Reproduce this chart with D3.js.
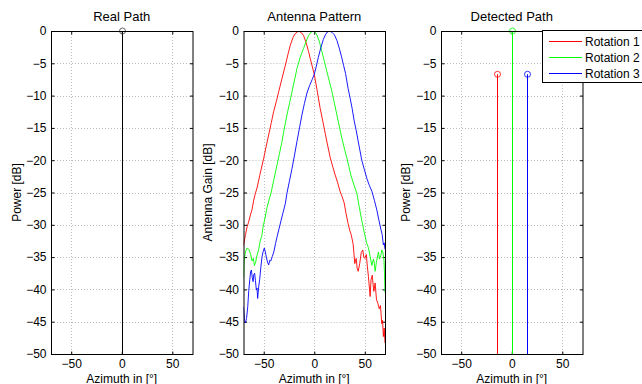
<!DOCTYPE html>
<html><head><meta charset="utf-8">
<script src="https://cdn.jsdelivr.net/npm/d3@7"></script>
<style>body{margin:0;background:#fff;overflow:hidden}svg{display:block}</style>
</head><body>
<svg id="c" width="642" height="384"></svg>
<script>
// ---------- data ----------
const titles = ["Real Path", "Antenna Pattern", "Detected Path"];
const yLabels = ["Power [dB]", "Antenna Gain [dB]", "Power [dB]"];
const xLabelText = "Azimuth in [°]";
const xTicks = [-50, 0, 50];
const yTicks = [0, -5, -10, -15, -20, -25, -30, -35, -40, -45, -50];
const seriesNames = ["Rotation 1", "Rotation 2", "Rotation 3"];
const seriesColors = ["#ff0000", "#00ff00", "#0000ff"];

const realAz = [0];
const realPower = [0];

const detAz = [-15, 0, 15];
const detPower = [-6.7, 0, -6.7];

const rot1Az = [-70,-68,-66.4,-65,-63.2,-61.5,-59.9,-58.2,-56.6,-54,-50,-47.5,-45.1,-42.5,-40.2,-37.5,-35.2,-32,-28.6,-26,-23.7,-21,-18.8,-15.5,-12.5,-10.6,-8,-5.6,-3.9,0,2.6,5.9,8.5,10.9,13.5,15.8,18.5,20.7,23,25.7,27.5,29.6,31.5,33.5,35,36.5,38.4,39.3,40.1,41.5,42.5,43.5,45,46.5,48,49,50,51.5,52.5,53.6,55.3,56.2,57.4,58.2,59,60.2,61.6,63,64.3,65.5,66.8,67.6,68.4,69.2,70];
const rot1Gain = [-33.2,-31.5,-30.3,-29.6,-28.5,-27.6,-26.2,-25.1,-24.3,-22.4,-19.7,-17.8,-16.1,-14.2,-12.5,-10.9,-9.4,-7.4,-5.3,-3.6,-2.2,-1.0,-0.4,0,-0.3,-0.7,-1.8,-3.2,-4.3,-6.7,-9.0,-12.0,-14.0,-15.9,-17.9,-19.6,-21.1,-22.3,-23.4,-24.9,-25.6,-26.6,-28.3,-29.8,-30.8,-31.5,-32.9,-34.5,-36,-35.2,-36.8,-37.2,-36,-34.3,-33.9,-35,-35.2,-34.6,-36.4,-38,-41.1,-38.5,-37.8,-39.2,-40.3,-39,-41.6,-42.2,-43,-42.5,-45.3,-44.8,-47.3,-46,-48.3];

const rot2Az = [-70,-69.3,-68.1,-66.5,-64.8,-63,-61.5,-60.2,-59.2,-58,-56.6,-55,-53.3,-52,-50.6,-48.5,-46.7,-44.5,-42.8,-39.8,-36.8,-34.3,-31.9,-29.5,-27,-24.5,-22,-19.5,-17.1,-14,-10.6,-8,-5.6,-3,0,2.6,5,7.6,10,12.5,15,17.5,20,22.4,25,27.3,30,32.3,34.3,36.2,39,42.1,44.5,47,49.5,52,53.5,55.3,57,58.6,59.5,60.2,61.5,63.5,64.5,65.8,66.8,67.8,69,69.5,70];
const rot2Gain = [-38.2,-35.5,-34.2,-33.6,-33.8,-34.5,-35.6,-35.2,-36.3,-35.8,-34.7,-33.8,-32.4,-31.8,-30.3,-28.8,-27.3,-26,-25.1,-22.9,-20.7,-18.9,-17.1,-15,-13,-11.2,-9.4,-7.6,-5.8,-4.1,-2.7,-1.6,-0.7,-0.15,0,-0.6,-1.6,-3.2,-4.7,-6.3,-7.8,-9.4,-11.2,-13,-14.9,-16.6,-18.3,-19.7,-21,-22.3,-23.7,-25.1,-27.2,-29.3,-31.2,-32.9,-33.5,-34.9,-36.3,-35.3,-36,-37.2,-35.8,-34.2,-35.3,-34.8,-33.9,-34.2,-35.5,-37.5,-40.5];

const rot3Az = [-70,-69,-68.1,-67,-65.8,-64.8,-63.8,-63,-62.2,-61.3,-60.5,-59.8,-59,-58.2,-57.3,-56.6,-56,-55,-54,-52.8,-51.6,-50.5,-49.4,-48.4,-47.4,-46.2,-45.1,-44,-43,-41.5,-40,-38.3,-36.7,-34.8,-32.8,-30.7,-28.6,-27,-24.5,-22,-19.5,-17.1,-14.6,-12.2,-9.7,-7.2,-4.5,-2,0,2,4,6.5,9,11,13,15,17.5,20,22.5,25,27,29,31,33.5,35.5,37.5,39.5,41.5,44,47,49.5,52,54.5,57,59.5,61.9,64,66.1,67.2,68.4,69.2,70];
const rot3Gain = [-42.7,-44.8,-45.2,-44.5,-42.7,-40.2,-38.5,-37.3,-37,-38.2,-38.8,-37.7,-37.5,-38.6,-40.1,-39.8,-41.4,-39.6,-38.5,-36.5,-34.9,-34.1,-33.6,-34.2,-35,-35.8,-36.2,-35.5,-35.6,-34.9,-34.2,-32.9,-31.8,-30.6,-29.3,-28,-26.7,-25.1,-23.2,-21.3,-19.2,-17.1,-15,-13,-11.2,-9.6,-8.4,-7.5,-6.7,-5.5,-4.1,-2.6,-1.3,-0.6,-0.15,0,-0.2,-0.6,-1.5,-2.8,-4,-5.3,-6.6,-8.9,-10.4,-12,-13.9,-15.4,-17.5,-20,-21.4,-22.8,-23.9,-24.8,-26.2,-27.7,-29.3,-30.8,-31.5,-33.1,-32.8,-33.8];

// ---------- layout ----------
const svg = d3.select("#c");
const panelLeft = [51, 243.5, 441];
const panelW = 141.5;
const plotTop = 31, panelH = 323;
const font = "'Liberation Sans', Arial, Helvetica, sans-serif";

const defs = svg.append("defs");

function makePanel(i) {
  const x0 = panelLeft[i];
  const x = d3.scaleLinear().domain([-70, 70]).range([x0, x0 + panelW]);
  const y = d3.scaleLinear().domain([-50, 0]).range([plotTop + panelH, plotTop]);
  const g = svg.append("g");

  const grid = g.append("g").attr("stroke", "#bdbdbd").attr("stroke-width", 1)
    .attr("stroke-dasharray", "1,2");
  xTicks.forEach(t => grid.append("line")
    .attr("x1", Math.round(x(t)) + 0.5).attr("x2", Math.round(x(t)) + 0.5)
    .attr("y1", plotTop).attr("y2", plotTop + panelH));
  yTicks.forEach(t => grid.append("line")
    .attr("y1", Math.round(y(t)) + 0.5).attr("y2", Math.round(y(t)) + 0.5)
    .attr("x1", x0).attr("x2", x0 + panelW));

  defs.append("clipPath").attr("id", "clip" + i).append("rect")
    .attr("x", x0).attr("y", plotTop).attr("width", panelW).attr("height", panelH);

  const axL = d3.axisLeft(y).tickValues(yTicks).tickSizeInner(-3).tickSizeOuter(0).tickPadding(5);
  const axR = d3.axisRight(y).tickValues(yTicks).tickSizeInner(-3).tickSizeOuter(0).tickFormat("");
  const axB = d3.axisBottom(x).tickValues(xTicks).tickSizeInner(-3).tickSizeOuter(0).tickPadding(5);
  const axT = d3.axisTop(x).tickValues(xTicks).tickSizeInner(-3).tickSizeOuter(0).tickFormat("");
  const styleAx = sel => {
    sel.selectAll(".domain").remove();
    sel.selectAll("line").attr("stroke", "#000");
    sel.selectAll("text").attr("fill", "#000").style("font-family", font).style("font-size", "12px");
  };
  g.append("g").attr("transform", `translate(${x0 + 0.5},0)`).call(axL).call(styleAx);
  g.append("g").attr("transform", `translate(${x0 + panelW + 0.5},0)`).call(axR).call(styleAx);
  g.append("g").attr("transform", `translate(0,${plotTop + panelH + 0.5})`).call(axB).call(styleAx);
  g.append("g").attr("transform", `translate(0,${plotTop + 0.5})`).call(axT).call(styleAx);

  svg.append("text").attr("x", x0 + panelW / 2).attr("y", 21).attr("text-anchor", "middle")
    .style("font-family", font).style("font-size", "13px").text(titles[i]);
  svg.append("text").attr("x", x0 + panelW / 2).attr("y", 382.5).attr("text-anchor", "middle")
    .style("font-family", font).style("font-size", "12px").text(xLabelText);
  const lx = [21, 212, 410][i];
  svg.append("text").attr("transform", `translate(${lx},${plotTop + panelH / 2}) rotate(-90)`)
    .attr("text-anchor", "middle")
    .style("font-family", font).style("font-size", "12px").text(yLabels[i]);

  return {g, x, y, x0};
}

// Panel 1: Real Path
{
  const p = makePanel(0);
  const data = realAz.map((a, k) => ({a, v: realPower[k]}));
  const mg = svg.append("g").attr("clip-path", "url(#clip0)");
  mg.selectAll("line").data(data).enter().append("line")
    .attr("x1", d => Math.round(p.x(d.a)) + 0.5).attr("x2", d => Math.round(p.x(d.a)) + 0.5)
    .attr("y1", d => p.y(d.v)).attr("y2", p.y(-50)).attr("stroke", "#000").attr("stroke-width", 1);
  svg.append("g").selectAll("circle").data(data).enter().append("circle")
    .attr("cx", d => Math.round(p.x(d.a)) + 0.5).attr("cy", d => p.y(d.v)).attr("r", 3)
    .attr("fill", "none").attr("stroke", "#444").attr("stroke-width", 0.8);
}

// Panel 2: Antenna Pattern
{
  const p = makePanel(1);
  const allAz = [rot1Az, rot2Az, rot3Az];
  const allGain = [rot1Gain, rot2Gain, rot3Gain];
  const line = d3.line().x(d => p.x(d[0])).y(d => p.y(d[1]));
  const lg = svg.append("g").attr("clip-path", "url(#clip1)");
  allAz.forEach((az, k) => {
    const pts = az.map((a, j) => [a, allGain[k][j]]);
    lg.append("path").attr("d", line(pts)).attr("fill", "none")
      .attr("stroke", seriesColors[k]).attr("stroke-width", 0.9).attr("stroke-linejoin", "round");
  });
}

// Panel 3: Detected Path
{
  const p = makePanel(2);
  const data = detAz.map((a, k) => ({a, v: detPower[k], c: seriesColors[k]}));
  const mg = svg.append("g").attr("clip-path", "url(#clip2)");
  mg.selectAll("line").data(data).enter().append("line")
    .attr("x1", d => Math.round(p.x(d.a)) + 0.5).attr("x2", d => Math.round(p.x(d.a)) + 0.5)
    .attr("y1", d => p.y(d.v)).attr("y2", p.y(-50)).attr("stroke", d => d.c).attr("stroke-width", 1);
  svg.append("g").selectAll("circle").data(data).enter().append("circle")
    .attr("cx", d => Math.round(p.x(d.a)) + 0.5).attr("cy", d => p.y(d.v)).attr("r", 3)
    .attr("fill", "none").attr("stroke", d => d.c).attr("stroke-width", 0.8);
}

// frames
[0, 1, 2].forEach(i => {
  svg.append("rect").attr("x", panelLeft[i] + 0.5).attr("y", plotTop + 0.5).attr("width", panelW).attr("height", panelH)
    .attr("fill", "none").attr("stroke", "#000").attr("stroke-width", 1);
});

// Legend
{
  const lgd = svg.append("g");
  lgd.append("rect").attr("x", 542.5).attr("y", 30.5).attr("width", 120).attr("height", 52)
    .attr("fill", "#fff").attr("stroke", "#000").attr("stroke-width", 1);
  seriesNames.forEach((n, k) => {
    const yy = 41 + k * 16;
    lgd.append("line").attr("x1", 549).attr("x2", 582).attr("y1", yy + 0.5).attr("y2", yy + 0.5)
      .attr("stroke", seriesColors[k]).attr("stroke-width", 1.2);
    lgd.append("text").attr("x", 585).attr("y", yy + 4.5).attr("fill", "#000")
      .style("font-family", font).style("font-size", "12px").text(n);
  });
}
</script>
</body></html>
